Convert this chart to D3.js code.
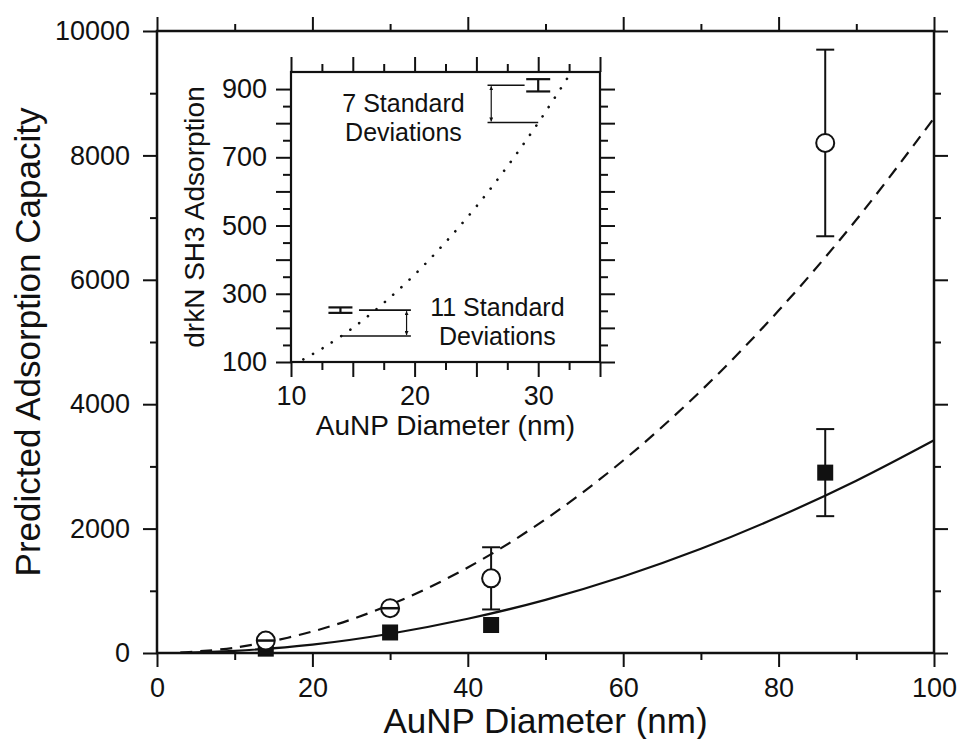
<!DOCTYPE html>
<html>
<head>
<meta charset="utf-8">
<script src="https://cdn.jsdelivr.net/npm/d3@7"></script>
<style>
    body { margin: 0; background: #fff; }
    svg text { font-family: "Liberation Sans", Arial, Helvetica, sans-serif; fill: #111; }
    .tick line { stroke: #111; }
</style>
</head>
<body>
<div id="chart"></div>
<script>
// main plot: measured points
const diameters = [14, 30, 43, 86];
const openValues = [200, 720, 1200, 8200];
const openErrors = [25, 25, 500, 1500];
const filledValues = [70, 330, 450, 2900];
const filledErrors = [0, 0, 0, 700];

// main plot: model curves
const curveX = [3, 10, 20, 30, 40, 50, 60, 70, 80, 90, 100];
const dashedY = [8, 85, 345, 775, 1375, 2150, 3095, 4215, 5505, 6965, 8600];
const solidY = [3, 35, 135, 310, 550, 855, 1230, 1675, 2190, 2770, 3420];

const xMajor = [0, 20, 40, 60, 80, 100];
const xMinor = [10, 30, 50, 70, 90];
const yMajor = [0, 2000, 4000, 6000, 8000, 10000];
const yMinor = [1000, 3000, 5000, 7000, 9000];

// inset
const insetCurveX = [11, 12.5, 15, 17.5, 20, 22.5, 25, 27.5, 30, 32.5];
const insetCurveY = [108, 139, 200, 273, 356, 451, 556, 673, 801, 940];
const insetPtX = [14, 30];
const insetPtY = [252, 911];
const insetPtErr = [8, 18];
// brackets: [x start top, x start bottom, x end top, x end bottom, y top, y bottom, arrow x]
const brackets = [
    {x1Top: 25.9, x2Top: 28.9, x1Bot: 25.9, x2Bot: 30.0, yTop: 911, yBot: 802, xArrow: 26.2,
     lines: ["7 Standard", "Deviations"], tx: 19.1, ty: [833, 748]},
    {x1Top: 15.5, x2Top: 19.7, x1Bot: 14.0, x2Bot: 19.7, yTop: 252, yBot: 176, xArrow: 19.35,
     lines: ["11 Standard", "Deviations"], tx: 26.7, ty: [234, 149]}
];
const insetXMajor = [10, 15, 20, 25, 30, 35];
const insetXMinor = [12.5, 17.5, 22.5, 27.5, 32.5];
const insetYMajor = [100, 200, 300, 400, 500, 600, 700, 800, 900];
const insetYMinor = [150, 250, 350, 450, 550, 650, 750, 850];

const width = 961, height = 739;
const ink = "#111";

const svg = d3.select("#chart").append("svg")
    .attr("width", width)
    .attr("height", height);

svg.append("defs").append("marker")
    .attr("id", "arrow")
    .attr("viewBox", "0 0 10 10")
    .attr("refX", 10).attr("refY", 5)
    .attr("markerWidth", 4).attr("markerHeight", 4)
    .attr("markerUnits", "userSpaceOnUse")
    .attr("orient", "auto-start-reverse")
    .append("path")
    .attr("d", "M0,0L10,5L0,10z")
    .attr("fill", ink);

function drawAxes(g, x, y, opt) {
    const [x0, x1] = x.range(), [y0, y1] = y.range();
    const noLabel = () => "";
    const style = (sel, w) => {
        sel.select(".domain").remove();
        sel.selectAll(".tick line").attr("stroke-width", w);
        sel.selectAll("text").attr("font-size", opt.fontSize);
    };
    // bottom
    g.append("g").attr("transform", `translate(0,${y0})`)
        .call(d3.axisBottom(x).tickValues(opt.xMajor).tickSize(opt.major).tickPadding(opt.xPad)
            .tickFormat(d => opt.xLabels.includes(d) ? d : ""))
        .call(s => style(s, opt.tickW));
    g.append("g").attr("transform", `translate(0,${y0})`)
        .call(d3.axisBottom(x).tickValues(opt.xMinor).tickSize(opt.minor).tickFormat(noLabel))
        .call(s => style(s, opt.tickW));
    // top
    g.append("g").attr("transform", `translate(0,${y1})`)
        .call(d3.axisTop(x).tickValues(opt.xMajor).tickSize(opt.major).tickFormat(noLabel))
        .call(s => style(s, opt.tickW));
    g.append("g").attr("transform", `translate(0,${y1})`)
        .call(d3.axisTop(x).tickValues(opt.xMinor).tickSize(opt.minor).tickFormat(noLabel))
        .call(s => style(s, opt.tickW));
    // left
    g.append("g").attr("transform", `translate(${x0},0)`)
        .call(d3.axisLeft(y).tickValues(opt.yMajor).tickSize(opt.major).tickPadding(opt.yPad)
            .tickFormat(d => opt.yLabels.includes(d) ? d : ""))
        .call(s => style(s, opt.tickW));
    g.append("g").attr("transform", `translate(${x0},0)`)
        .call(d3.axisLeft(y).tickValues(opt.yMinor).tickSize(opt.minor).tickFormat(noLabel))
        .call(s => style(s, opt.tickW));
    // right
    g.append("g").attr("transform", `translate(${x1},0)`)
        .call(d3.axisRight(y).tickValues(opt.yMajor).tickSize(opt.major).tickFormat(noLabel))
        .call(s => style(s, opt.tickW));
    g.append("g").attr("transform", `translate(${x1},0)`)
        .call(d3.axisRight(y).tickValues(opt.yMinor).tickSize(opt.minor).tickFormat(noLabel))
        .call(s => style(s, opt.tickW));

    g.append("rect")
        .attr("x", x0).attr("y", y1)
        .attr("width", x1 - x0).attr("height", y0 - y1)
        .attr("fill", "none")
        .attr("stroke", ink)
        .attr("stroke-width", opt.frameW);
}

// ---------- main plot ----------
const x = d3.scaleLinear().domain([0, 100]).range([157, 934]);
const y = d3.scaleLinear().domain([0, 10000]).range([653, 31]);

const main = svg.append("g").attr("class", "main");

const line = d3.line().curve(d3.curveCatmullRom).x(d => x(d[0])).y(d => y(d[1]));

main.append("path")
    .datum(d3.zip(curveX, solidY))
    .attr("d", line)
    .attr("fill", "none").attr("stroke", ink).attr("stroke-width", 2.2);

main.append("path")
    .datum(d3.zip(curveX, dashedY))
    .attr("d", line)
    .attr("fill", "none").attr("stroke", ink).attr("stroke-width", 2.2)
    .attr("stroke-dasharray", "12,8");

function errorBars(g, xs, ys, es, sx, sy, cap, w) {
    const data = d3.zip(xs, ys, es).filter(d => d[2] > 0);
    const bar = g.selectAll(null).data(data).enter().append("g")
        .attr("stroke", ink).attr("stroke-width", w);
    bar.append("line")
        .attr("x1", d => sx(d[0])).attr("x2", d => sx(d[0]))
        .attr("y1", d => sy(d[1] - d[2])).attr("y2", d => sy(d[1] + d[2]));
    bar.append("line")
        .attr("x1", d => sx(d[0]) - cap / 2).attr("x2", d => sx(d[0]) + cap / 2)
        .attr("y1", d => sy(d[1] + d[2])).attr("y2", d => sy(d[1] + d[2]));
    bar.append("line")
        .attr("x1", d => sx(d[0]) - cap / 2).attr("x2", d => sx(d[0]) + cap / 2)
        .attr("y1", d => sy(d[1] - d[2])).attr("y2", d => sy(d[1] - d[2]));
}

errorBars(main, diameters, filledValues, filledErrors, x, y, 18, 2);
main.selectAll(".filled")
    .data(d3.zip(diameters, filledValues))
    .enter().append("rect")
    .attr("class", "filled")
    .attr("x", d => x(d[0]) - 8).attr("y", d => y(d[1]) - 8)
    .attr("width", 16).attr("height", 16)
    .attr("fill", ink);

errorBars(main, diameters, openValues, openErrors, x, y, 18, 2);
main.selectAll(".open")
    .data(d3.zip(diameters, openValues))
    .enter().append("circle")
    .attr("class", "open")
    .attr("cx", d => x(d[0])).attr("cy", d => y(d[1]))
    .attr("r", 9)
    .attr("fill", "#fff")
    .attr("stroke", ink).attr("stroke-width", 2);
// tiny error bars sit on the circle at 14 and 30
main.selectAll(".tiny")
    .data(d3.zip(diameters, openValues, openErrors).filter(d => d[2] < 100))
    .enter().append("line")
    .attr("x1", d => x(d[0]) - 9).attr("x2", d => x(d[0]) + 9)
    .attr("y1", d => y(d[1])).attr("y2", d => y(d[1]))
    .attr("stroke", ink).attr("stroke-width", 2.5);

drawAxes(main, x, y, {
    xMajor, xMinor, yMajor, yMinor,
    xLabels: xMajor, yLabels: yMajor,
    major: 14, minor: 7, tickW: 2, frameW: 2.5,
    fontSize: 27, xPad: 11, yPad: 13
});

main.append("text")
    .attr("x", (x.range()[0] + x.range()[1]) / 2)
    .attr("y", 733)
    .attr("text-anchor", "middle")
    .attr("font-size", 35)
    .text("AuNP Diameter (nm)");

main.append("text")
    .attr("transform", `translate(40,${(y.range()[0] + y.range()[1]) / 2}) rotate(-90)`)
    .attr("text-anchor", "middle")
    .attr("font-size", 35)
    .text("Predicted Adsorption Capacity");

// ---------- inset ----------
const ix = d3.scaleLinear().domain([10, 35]).range([291, 600]);
const iy = d3.scaleLinear().domain([100, 950]).range([362, 72]);

const inset = svg.append("g").attr("class", "inset");

inset.append("rect")
    .attr("x", 291).attr("y", 72).attr("width", 309).attr("height", 290)
    .attr("fill", "#fff");

const iline = d3.line().curve(d3.curveCatmullRom).x(d => ix(d[0])).y(d => iy(d[1]));
inset.append("path")
    .datum(d3.zip(insetCurveX, insetCurveY))
    .attr("d", iline)
    .attr("fill", "none").attr("stroke", ink).attr("stroke-width", 2.6)
    .attr("stroke-linecap", "round")
    .attr("stroke-dasharray", "0.1,11");

errorBars(inset, insetPtX, insetPtY, insetPtErr, ix, iy, 24, 2.2);

brackets.forEach(b => {
    const g = inset.append("g").attr("stroke", ink).attr("stroke-width", 1.6);
    g.append("line").attr("x1", ix(b.x1Top)).attr("x2", ix(b.x2Top))
        .attr("y1", iy(b.yTop)).attr("y2", iy(b.yTop));
    g.append("line").attr("x1", ix(b.x1Bot)).attr("x2", ix(b.x2Bot))
        .attr("y1", iy(b.yBot)).attr("y2", iy(b.yBot));
    g.append("line").attr("x1", ix(b.xArrow)).attr("x2", ix(b.xArrow))
        .attr("y1", iy(b.yTop) + 1).attr("y2", iy(b.yBot) - 1)
        .attr("stroke-width", 1.2)
        .attr("marker-start", "url(#arrow)")
        .attr("marker-end", "url(#arrow)");
    b.lines.forEach((t, i) => {
        inset.append("text")
            .attr("x", ix(b.tx)).attr("y", iy(b.ty[i]))
            .attr("text-anchor", "middle")
            .attr("font-size", 25)
            .text(t);
    });
});

drawAxes(inset, ix, iy, {
    xMajor: insetXMajor, xMinor: insetXMinor, yMajor: insetYMajor, yMinor: insetYMinor,
    xLabels: [10, 20, 30], yLabels: [100, 300, 500, 700, 900],
    major: 15, minor: 8, tickW: 2, frameW: 2.2,
    fontSize: 27, xPad: 9, yPad: 9
});

inset.append("text")
    .attr("x", (ix.range()[0] + ix.range()[1]) / 2)
    .attr("y", 435)
    .attr("text-anchor", "middle")
    .attr("font-size", 28)
    .text("AuNP Diameter (nm)");

inset.append("text")
    .attr("transform", `translate(204,${(iy.range()[0] + iy.range()[1]) / 2}) rotate(-90)`)
    .attr("text-anchor", "middle")
    .attr("font-size", 28)
    .text("drkN SH3 Adsorption");
</script>
</body>
</html>
